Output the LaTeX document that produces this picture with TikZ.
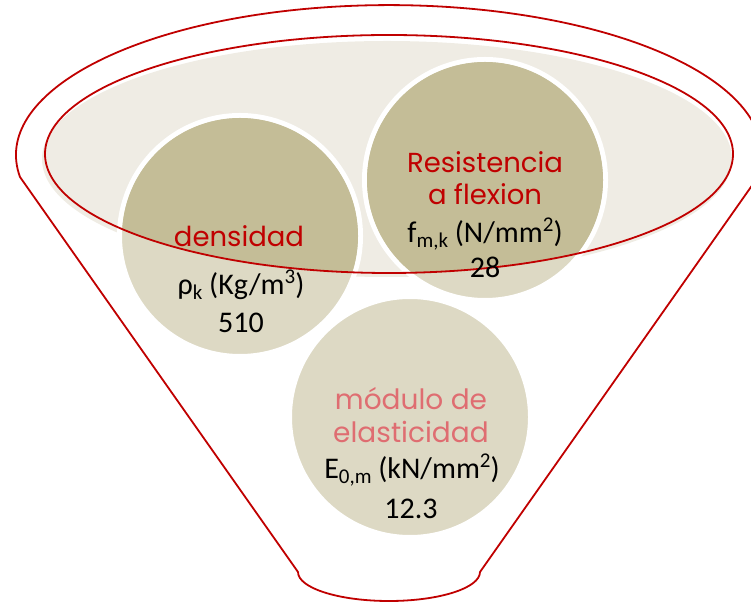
\documentclass[tikz,border=0pt]{standalone}
\usepackage{fontspec}
\setmainfont{Carlito}
\newfontfamily\gothic{Poppins}
\definecolor{funred}{HTML}{C00000}
\definecolor{pinktxt}{HTML}{DF6D71}
\definecolor{pale}{HTML}{EFECE4}
\definecolor{tanlight}{HTML}{DDD9C4}
\definecolor{tandark}{HTML}{C4BD97}
\newcommand{\lowsub}[1]{\raisebox{-5pt}{\fontsize{21}{21}\selectfont #1}}
\newcommand{\highsup}[1]{\raisebox{11pt}{\fontsize{21}{21}\selectfont #1}}
\tikzset{
  x=1pt, y=1pt,
  redline/.style={draw=funred, line width=1.8pt},
  ball/.style={circle, inner sep=0pt, minimum size=241pt, fill=tanlight, draw=white, line width=5pt},
  redtxt/.style={anchor=base, inner sep=0pt, text=funred, font=\gothic\fontsize{27.5}{27.5}\selectfont},
  pinktext/.style={anchor=base, inner sep=0pt, text=pinktxt, font=\gothic\fontsize{28}{28}\selectfont},
  blacktxt/.style={anchor=base, inner sep=0pt, text=black, font=\fontsize{30}{30}\selectfont}
}
\begin{document}
\begin{tikzpicture}
\clip (0,0) rectangle (751,602);
% pale ellipse fill
\fill[pale] (387,443) ellipse[x radius=345, y radius=118];
% circles
\node[ball] (c1) at (240,366) {};
\node[ball] (c2) at (485,422) {};
\node[ball] (c3) at (410,185) {};
% darker parts inside inner ellipse
\begin{scope}
  \clip (389,448) ellipse[x radius=344, y radius=119];
  \fill[tandark] (c1.center) circle[radius=118];
  \fill[tandark] (c2.center) circle[radius=118];
  \fill[tandark] (c3.center) circle[radius=118];
\end{scope}
% inner red ellipse
\draw[redline] (389,448) ellipse[x radius=344, y radius=119];
% funnel outline
\draw[redline, line join=round] (20,425) arc[start angle=188.4, end angle=-8.4, x radius=373, y radius=150]
  -- (480,30) arc[start angle=0, end angle=-180, x radius=91, y radius=29] -- cycle;
% texts
\node[redtxt] (t1a) at (239,355) {densidad};
\node[blacktxt] (t1b) at (241,307) {ρ\lowsub{k} (Kg/m\highsup{3})};
\node[blacktxt] (t1c) at (241,269) {510};
\node[redtxt] (t2a) at (485,429) {Resistencia};
\node[redtxt] (t2b) at (485,397) {a flexion};
\node[blacktxt] (t2c) at (485,359) {f\lowsub{m,k} (N/mm\highsup{2})};
\node[blacktxt] (t2d) at (485,324) {28};
\node[pinktext] (t3a) at (411,192) {módulo de};
\node[pinktext] (t3b) at (411,159) {elasticidad};
\node[blacktxt] (t3c) at (412,124) {E\lowsub{0,m} (kN/mm\highsup{2})};
\node[blacktxt] (t3d) at (411,84) {12.3};
\end{tikzpicture}
\end{document}
